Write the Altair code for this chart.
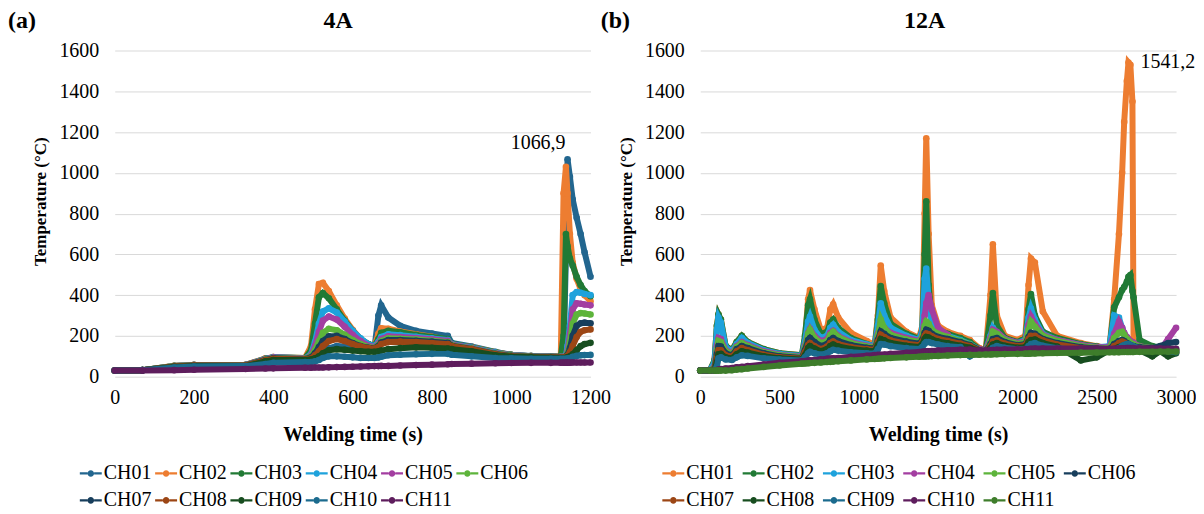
import altair as alt
import pandas as pd

CHANNELS = ["CH01", "CH02", "CH03", "CH04", "CH05", "CH06",
            "CH07", "CH08", "CH09", "CH10", "CH11"]

# ---------------- Panel (a) 4A ----------------
A_T = [0, 70, 150, 200, 330, 380, 400, 480, 495, 505,
       515, 525, 540, 560, 580, 600, 620, 640, 655, 665,
       672, 690, 720, 760, 800, 840, 850, 900, 960, 1000,
       1050, 1100, 1125, 1132, 1138, 1142, 1148, 1155, 1165, 1175,
       1185, 1200]
A_CH01 = [30, 32, 50, 54, 55, 80, 86, 84, 88, 95, 105, 120, 140, 150, 148, 143, 138, 135, 140, 300,
          350, 290, 250, 225, 212, 200, 165, 148, 122, 108, 102, 100, 99, 100, 600, 1066.9, 980, 870, 780, 700,
          610, 490]
A_CH02 = [30, 32, 54, 58, 58, 90, 96, 92, 150, 330, 455, 460, 420, 350, 285, 230, 185, 158, 150, 210,
          238, 235, 222, 208, 196, 180, 160, 145, 120, 107, 101, 99, 100, 900, 1030, 900, 700, 560, 480, 430,
          400, 370]
A_CH03 = [30, 32, 53, 58, 58, 88, 96, 92, 130, 260, 390, 410, 385, 330, 275, 225, 185, 160, 152, 185,
          215, 225, 218, 205, 195, 185, 162, 144, 120, 107, 101, 99, 98, 200, 700, 640, 580, 545, 490, 450,
          420, 395]
A_CH04 = [30, 32, 52, 57, 57, 87, 95, 90, 110, 170, 260, 320, 335, 315, 270, 225, 188, 158, 150, 170,
          195, 208, 204, 196, 188, 180, 160, 142, 118, 106, 100, 98, 97, 98, 105, 150, 250, 400, 415, 412,
          406, 400]
A_CH05 = [30, 32, 52, 57, 57, 86, 94, 90, 105, 150, 220, 275, 295, 280, 245, 205, 175, 152, 146, 162,
          185, 198, 195, 190, 184, 176, 158, 140, 116, 105, 100, 98, 97, 97, 102, 125, 210, 330, 360, 358,
          354, 350]
A_CH06 = [30, 32, 52, 56, 56, 84, 92, 88, 100, 130, 175, 215, 235, 228, 205, 180, 160, 145, 142, 155,
          175, 188, 186, 182, 176, 170, 155, 138, 114, 104, 99, 97, 96, 96, 100, 115, 170, 260, 305, 312,
          310, 305]
A_CH07 = [30, 32, 50, 55, 55, 82, 90, 86, 95, 115, 145, 175, 198, 200, 185, 165, 150, 142, 140, 150,
          168, 180, 180, 176, 172, 166, 152, 136, 112, 102, 98, 96, 95, 95, 98, 108, 140, 200, 250, 262,
          265, 262]
A_CH08 = [30, 32, 50, 55, 55, 80, 88, 85, 90, 105, 125, 150, 175, 185, 175, 160, 148, 140, 138, 145,
          160, 170, 172, 170, 165, 160, 150, 135, 110, 100, 97, 95, 94, 94, 96, 102, 120, 150, 195, 220,
          228, 232]
A_CH09 = [30, 32, 48, 52, 52, 75, 82, 82, 84, 90, 100, 115, 130, 135, 132, 128, 125, 122, 122, 124,
          128, 135, 140, 144, 142, 138, 135, 125, 105, 98, 95, 93, 92, 92, 93, 95, 100, 110, 130, 150,
          160, 166]
A_CH10 = [30, 32, 45, 50, 52, 62, 68, 72, 72, 75, 82, 92, 100, 100, 98, 95, 92, 92, 92, 94,
          98, 105, 108, 110, 112, 112, 108, 100, 92, 90, 88, 88, 88, 88, 88, 89, 92, 97, 102, 105,
          106, 107]
A_CH11 = [30, 30, 32, 34, 38, 40, 41, 44, 44, 45, 45, 45, 46, 47, 48, 49, 50, 51, 52, 52,
          53, 53, 55, 57, 59, 61, 62, 64, 66, 67, 68, 68, 69, 69, 69, 69, 69, 70, 70, 70,
          70, 70]
A_COLORS = ["#22668f", "#ed7d31", "#217a35", "#1ea2dc", "#a33ea1", "#5db43b",
            "#173e5c", "#9c4615", "#174d1f", "#1b6b8e", "#5e1d5d"]
A_PEAK_T = [1142]
A_PEAK_V = [1066.9]
A_PEAK_LABEL = ["1066,9"]

# ---------------- Panel (b) 12A ----------------
B_T = [0, 60, 90, 105, 115, 130, 160, 200, 230, 262,
       300, 400, 500, 640, 660, 680, 692, 720, 760, 800,
       820, 838, 870, 950, 1050, 1100, 1120, 1138, 1160, 1200,
       1300, 1380, 1400, 1415, 1425, 1440, 1460, 1500, 1560, 1640,
       1700, 1760, 1800, 1830, 1845, 1870, 1920, 2000, 2050, 2070,
       2085, 2110, 2160, 2250, 2400, 2500, 2580, 2610, 2640, 2660,
       2673, 2690, 2700, 2712, 2725, 2732, 2770, 2850, 2900, 2950,
       3000]
B_CH01 = [30, 30, 80, 250, 305, 280, 150, 130, 170, 200,
          170, 135, 115, 105, 180, 380, 425, 330, 230, 240,
          330, 355, 290, 215, 175, 155, 300, 545, 420, 290,
          220, 190, 250, 800, 1170, 700, 350, 250, 220, 200,
          180, 140, 130, 400, 650, 300, 200, 180, 200, 450,
          580, 560, 320, 200, 165, 150, 140, 380, 700, 1000,
          1250, 1450, 1541.2, 1530, 1350, 160, 140, 135, 130, 125,
          120]
B_CH02 = [30, 30, 80, 250, 305, 280, 150, 130, 170, 200,
          170, 135, 115, 105, 200, 350, 380, 280, 210, 220,
          265, 280, 240, 190, 160, 150, 280, 445, 360, 260,
          210, 185, 230, 600, 860, 450, 280, 230, 210, 190,
          170, 135, 130, 300, 410, 250, 190, 170, 190, 330,
          405, 300, 220, 190, 160, 148, 140, 340, 390, 425,
          440, 465, 490, 499, 420, 390, 180, 150, 145, 140,
          135]
B_CH03 = [30, 30, 70, 230, 290, 265, 145, 125, 160, 190,
          165, 130, 112, 102, 170, 270, 295, 230, 190, 200,
          240, 255, 220, 180, 158, 150, 250, 360, 300, 240,
          200, 180, 230, 480, 530, 380, 260, 220, 200, 180,
          160, 132, 128, 200, 240, 215, 185, 165, 180, 290,
          335, 280, 210, 180, 155, 145, 150, 300, 290, 240,
          210, 180, 165, 160, 155, 150, 140, 135, 130, 128,
          125]
B_CH04 = [30, 30, 50, 150, 190, 185, 130, 115, 150, 170,
          155, 125, 108, 98, 150, 215, 235, 200, 175, 185,
          215, 225, 200, 170, 152, 145, 210, 265, 240, 215,
          190, 175, 200, 300, 360, 400, 330, 240, 205, 120,
          150, 135, 130, 190, 230, 220, 185, 165, 175, 255,
          295, 260, 205, 180, 155, 145, 145, 210, 270, 240,
          215, 195, 185, 175, 170, 165, 150, 140, 130, 185,
          240]
B_CH05 = [30, 30, 45, 130, 175, 170, 125, 110, 145, 165,
          150, 120, 105, 95, 140, 210, 230, 190, 165, 175,
          205, 220, 195, 165, 148, 142, 200, 280, 240, 205,
          182, 170, 195, 250, 270, 260, 230, 210, 195, 175,
          158, 130, 126, 175, 220, 210, 180, 160, 170, 230,
          270, 245, 200, 175, 150, 142, 140, 190, 215, 220,
          205, 185, 175, 168, 160, 158, 148, 140, 135, 130,
          128]
B_CH06 = [30, 30, 40, 110, 150, 148, 115, 105, 135, 150,
          140, 115, 100, 92, 130, 180, 190, 170, 150, 160,
          180, 190, 175, 155, 142, 138, 180, 222, 210, 190,
          172, 162, 180, 215, 230, 225, 210, 195, 185, 170,
          155, 130, 125, 160, 185, 190, 170, 155, 160, 195,
          215, 210, 185, 165, 145, 138, 135, 160, 175, 180,
          175, 165, 160, 155, 150, 150, 145, 140, 150, 165,
          170]
B_CH07 = [30, 30, 35, 90, 130, 130, 105, 98, 125, 140,
          130, 108, 95, 88, 120, 155, 165, 150, 135, 148,
          165, 173, 160, 145, 135, 132, 170, 206, 195, 178,
          162, 155, 170, 200, 212, 208, 198, 185, 175, 162,
          150, 128, 124, 150, 172, 178, 162, 150, 155, 185,
          200, 200, 178, 158, 140, 135, 132, 150, 165, 172,
          168, 160, 155, 150, 145, 145, 140, 135, 132, 130,
          130]
B_CH08 = [30, 30, 32, 70, 110, 112, 95, 90, 110, 125,
          118, 100, 90, 84, 105, 140, 150, 138, 125, 135,
          150, 158, 148, 136, 128, 125, 155, 185, 178, 165,
          152, 146, 158, 185, 195, 192, 184, 172, 164, 152,
          142, 126, 122, 140, 158, 165, 152, 142, 145, 170,
          180, 182, 165, 148, 80, 95, 130, 135, 145, 150,
          148, 142, 140, 138, 135, 135, 130, 100, 125, 100,
          115]
B_CH09 = [30, 30, 30, 50, 90, 95, 85, 82, 95, 105,
          102, 90, 84, 80, 95, 115, 122, 115, 108, 115,
          125, 132, 128, 120, 115, 114, 135, 160, 158, 150,
          140, 136, 145, 162, 170, 170, 165, 158, 150, 145,
          100, 124, 120, 130, 142, 150, 142, 135, 136, 150,
          160, 165, 152, 140, 130, 128, 126, 130, 140, 150,
          155, 160, 160, 155, 150, 148, 140, 132, 128, 125,
          120]
B_CH10 = [30, 30, 30, 32, 35, 37, 40, 43, 46, 48,
          52, 60, 68, 76, 77, 79, 80, 82, 85, 88,
          89, 90, 92, 97, 103, 106, 107, 108, 109, 112,
          117, 121, 122, 123, 124, 125, 126, 128, 130, 132,
          133, 128, 128, 130, 131, 132, 133, 134, 135, 136,
          137, 138, 138, 138, 138, 138, 137, 137, 138, 139,
          139, 140, 140, 140, 140, 140, 139, 138, 138, 137,
          137]
B_CH11 = [30, 30, 30, 30, 30, 30, 30, 32, 35, 37,
          40, 48, 55, 64, 65, 66, 67, 68, 70, 72,
          73, 74, 76, 80, 85, 87, 88, 89, 90, 92,
          95, 98, 99, 99, 100, 100, 101, 102, 104, 106,
          107, 108, 109, 109, 110, 110, 111, 112, 113, 113,
          114, 114, 115, 116, 118, 119, 120, 120, 120, 121,
          121, 121, 121, 121, 121, 121, 122, 122, 123, 123,
          123]
B_COLORS = ["#ed7d31", "#217a35", "#1ea2dc", "#a33ea1", "#5db43b", "#173e5c",
            "#9c4615", "#174d1f", "#1b6b8e", "#5e1d5d", "#3e7d2b"]
B_PEAK_T = [2700]
B_PEAK_V = [1541.2]
B_PEAK_LABEL = ["1541,2"]

FONT = "Liberation Serif"
LEG_PATH = ("M-1,-0.1L-0.3,-0.1L-0.3,0.1L-1,0.1Z"
            "M0.3,-0.1L1,-0.1L1,0.1L0.3,0.1Z"
            "M-0.3,0A0.3,0.3 0 1,0 0.3,0A0.3,0.3 0 1,0 -0.3,0Z")


def panel(T, series, colors, xmax, xstep, tag, tag_x, title, title_x,
          pk_t, pk_v, pk_label, pk_align, pk_baseline, pk_dx, pk_dy,
          legend_x, legend_pad):
    rows = []
    for ch, vals in zip(CHANNELS, series):
        for t, v in zip(T, vals):
            rows.append({"t": t, "v": v, "ch": ch})
    df = pd.DataFrame(rows)

    xenc = alt.X("t:Q", scale=alt.Scale(domain=[0, xmax], nice=False),
                 axis=alt.Axis(values=list(range(0, xmax + 1, xstep)), format="d",
                               title="Welding time (s)", grid=False, domain=False,
                               ticks=False, labelFlush=False, labelPadding=11,
                               titlePadding=17, titleFontSize=20))
    yenc = alt.Y("v:Q", scale=alt.Scale(domain=[0, 1600], nice=False),
                 axis=alt.Axis(values=list(range(0, 1601, 200)), format="d",
                               title="Temperature (°C)", grid=True, domain=False,
                               ticks=False, labelPadding=16, titlePadding=9,
                               titleFontSize=17, titleY=151))
    cscale = alt.Scale(domain=CHANNELS, range=colors)
    legend = alt.Legend(orient="none", legendX=legend_x, legendY=413, columns=6,
                        direction="horizontal", title=None, symbolType=LEG_PATH,
                        symbolSize=484, symbolStrokeWidth=0, symbolOpacity=1,
                        labelFont=FONT, labelFontSize=20, labelColor="black",
                        labelOffset=2, columnPadding=legend_pad, rowPadding=6)
    layers = []
    for i, ch in enumerate(CHANNELS):
        base = alt.Chart(df).transform_filter(alt.datum.ch == ch)
        ln = base.mark_line(strokeWidth=6).encode(
            x=xenc, y=yenc, color=alt.Color("ch:N", scale=cscale, legend=None))
        pt = base.mark_circle(size=44, opacity=1).encode(
            x=xenc, y=yenc, color=alt.Color("ch:N", scale=cscale, legend=legend))
        if i == 0:
            layers += [pt, ln]
        else:
            layers += [ln, pt]

    ann = alt.Chart(pd.DataFrame({"t": pk_t, "v": pk_v, "label": pk_label})).mark_text(
        font=FONT, fontSize=20, color="black", align=pk_align, baseline=pk_baseline,
        dx=pk_dx, dy=pk_dy).encode(x=xenc, y=yenc, text="label:N")
    tag_m = alt.Chart(pd.DataFrame({"label": [tag]})).mark_text(
        font=FONT, fontSize=24, fontWeight="bold", color="black", align="center",
        baseline="middle").encode(x=alt.value(tag_x), y=alt.value(-30), text="label:N")
    title_m = alt.Chart(pd.DataFrame({"label": [title]})).mark_text(
        font=FONT, fontSize=24, fontWeight="bold", color="black", align="center",
        baseline="middle").encode(x=alt.value(title_x), y=alt.value(-30), text="label:N")
    return alt.layer(*layers, ann, tag_m, title_m).properties(width=477, height=327)


pa = panel(A_T, [A_CH01, A_CH02, A_CH03, A_CH04, A_CH05, A_CH06, A_CH07, A_CH08,
                 A_CH09, A_CH10, A_CH11], A_COLORS, 1200, 200, "(a)", -93, "4A", 224,
           A_PEAK_T, A_PEAK_V, A_PEAK_LABEL, "right", "bottom", -2, -6, -35, 3.5)
pb = panel(B_T, [B_CH01, B_CH02, B_CH03, B_CH04, B_CH05, B_CH06, B_CH07, B_CH08,
                 B_CH09, B_CH10, B_CH11], B_COLORS, 3000, 500, "(b)", -85, "12A", 225,
           B_PEAK_T, B_PEAK_V, B_PEAK_LABEL, "left", "middle", 12, 0, -38, 8.5)

chart = alt.hconcat(pa, pb, spacing=110, bounds="flush").resolve_scale(
    color="independent").resolve_legend(color="independent").configure_view(
    stroke=None).configure_axis(
    labelFont=FONT, labelFontSize=20, labelColor="black",
    titleFont=FONT, titleFontWeight="bold", titleColor="black",
    gridColor="#d9d9d9", gridWidth=1).properties(
    padding={"left": 0, "top": 0, "right": 0, "bottom": 0}, background="white")

chart.save("out.html", embed_options={"renderer": "svg", "actions": False})
